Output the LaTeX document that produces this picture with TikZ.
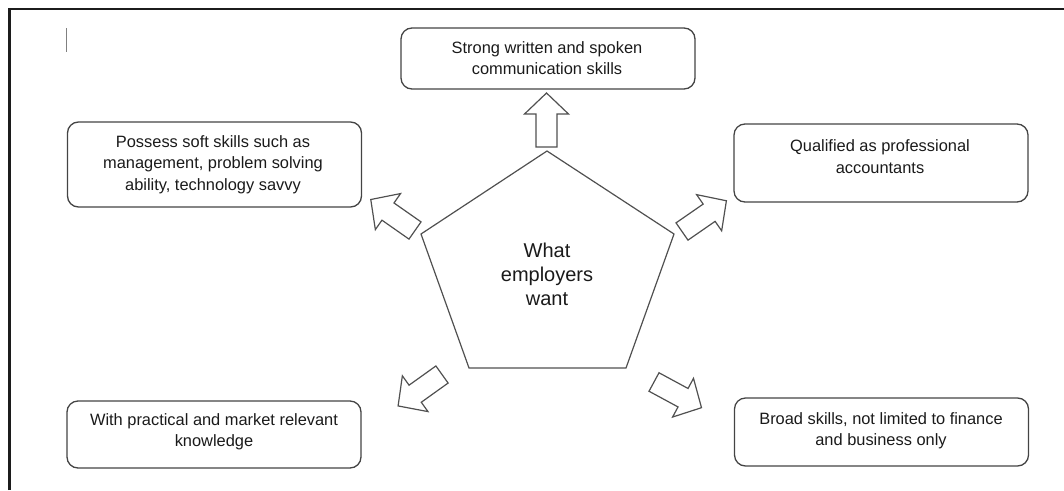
\documentclass[tikz,border=0pt]{standalone}
\usepackage{fontspec}
\setmainfont{Liberation Sans}
\definecolor{boxc}{HTML}{444444}
\definecolor{arrc}{HTML}{505050}
\definecolor{txtc}{HTML}{1A1A1A}
\definecolor{framec}{HTML}{1C1C1C}
\begin{document}
\begin{tikzpicture}[x=1pt,y=-1pt,
  box/.style={draw=boxc, line width=1.3pt, rounded corners=11pt, minimum width=294pt, inner sep=0pt},
  txt/.style={inner sep=0pt, anchor=north, align=center, text=txtc, font=\fontsize{16.4}{21.5}\selectfont},
  pent/.style={draw=arrc, line width=1.2pt, line join=miter},
  barrow/.pic={\draw[arrc, line width=1.2pt, line join=miter] (0,-10.5) -- (33,-10.5) -- (33,-22) -- (54,0) -- (33,22) -- (33,10.5) -- (0,10.5) -- cycle;}
]
\useasboundingbox (0,0) rectangle (1064,490);
% frame
\draw[framec, line width=2.4pt] (9.6,490) -- (9.6,8.8) -- (1064,8.8);
% cursor mark
\draw[gray, line width=1pt] (66.5,28) -- (66.5,52);
% boxes
\node[box, minimum height=61pt] (b1) at (548,58.5) {};
\node[box, minimum height=85pt] (b2) at (214.5,164.5) {};
\node[box, minimum height=78pt] (b3) at (881,163) {};
\node[box, minimum height=67pt] (b4) at (214,434.5) {};
\node[box, minimum height=68pt] (b5) at (881.5,432) {};
% box texts
\node[txt] (t1) at (547,41.3) {Strong written and spoken\\communication skills};
\node[txt] (t2) at (213,135.3) {Possess soft skills such as\\management, problem solving\\ability, technology savvy};
\node[txt] (t3) at (880,139.7) {Qualified as professional\\accountants};
\node[txt] (t4) at (214,413) {With practical and market relevant\\knowledge};
\node[txt] (t5) at (881,412) {Broad skills, not limited to finance\\and business only};
% pentagon
\coordinate (p1) at (547,151);
\coordinate (p2) at (674,234);
\coordinate (p3) at (626,368);
\coordinate (p4) at (469,368);
\coordinate (p5) at (421,234);
\draw[pent] (p1) -- (p2) -- (p3) -- (p4) -- (p5) -- cycle;
\node[txt, font=\fontsize{20}{24}\selectfont] (c) at (547,242.4) {What\\employers\\want};
% block arrows
\pic[rotate=90] at (546.5,147) {barrow};
\pic[rotate=145] at (415,230.5) {barrow};
\pic[rotate=34.7] at (682,231.5) {barrow};
\pic[rotate=215.6] at (442,374.5) {barrow};
\pic[rotate=-28.4] at (654,382) {barrow};
\end{tikzpicture}
\end{document}
